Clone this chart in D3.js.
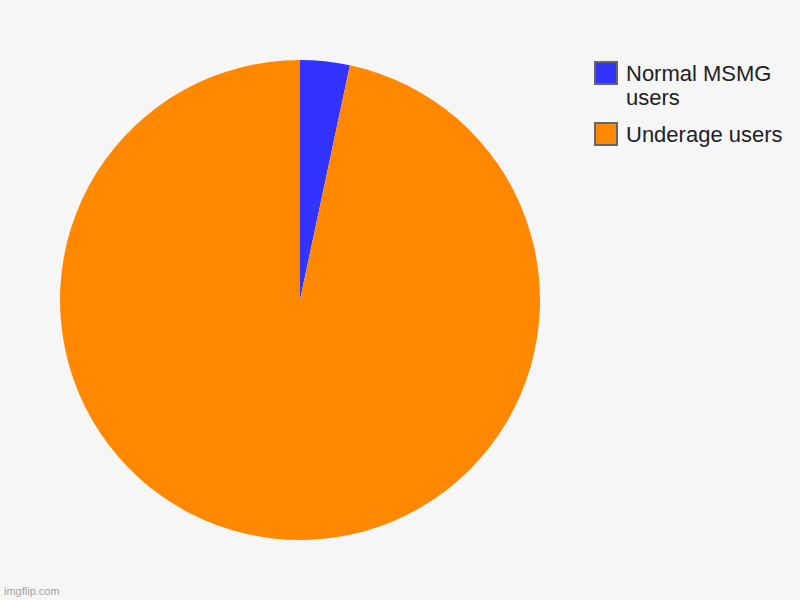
<!DOCTYPE html>
<html>
<head>
<meta charset="utf-8">
<script src="https://cdn.jsdelivr.net/npm/d3@7"></script>
<style>
  html, body { margin: 0; padding: 0; background: #f6f6f6; }
  svg { display: block; font-family: "Liberation Sans", Arial, sans-serif; }
</style>
</head>
<body>
<div id="container"></div>
<script>
"use strict";

// Chart data.
const categories = ["Normal MSMG users", "Underage users"];
const values = [1, 29];
const colors = ["#3333ff", "#ff8800"];
const legendLines = [["Normal MSMG", "users"], ["Underage users"]];

const width = 800;
const height = 600;
const radius = 240;
const cx = 300;
const cy = 300;

const svg = d3.create("svg").attr("width", width).attr("height", height);
d3.select("#container").append(() => svg.node());

svg.append("rect").attr("width", width).attr("height", height).attr("fill", "#f6f6f6");

const pie = d3.pie().sort(null).value((d) => d.value);
const arc = d3.arc().innerRadius(0).outerRadius(radius);
const data = categories.map((c, i) => ({ key: c, value: values[i] }));

// Draw slices, starting at 12 o'clock and going clockwise.
svg
  .append("g")
  .attr("transform", `translate(${cx}, ${cy})`)
  .selectAll("path")
  .data(pie(data))
  .enter()
  .append("path")
  .attr("d", arc)
  .style("fill", (d, i) => colors[i]);

// Legend on the right.
const legendY = d3.scaleOrdinal().domain(categories).range([61, 122]);

const legend = svg
  .append("g")
  .selectAll("g")
  .data(categories)
  .enter()
  .append("g")
  .attr("transform", (d) => `translate(595, ${legendY(d)})`);

legend
  .append("rect")
  .attr("x", 0)
  .attr("y", 1)
  .attr("width", 22)
  .attr("height", 22)
  .style("fill", (d, i) => colors[i])
  .style("stroke", "#666")
  .attr("stroke-width", 2);

legend
  .append("text")
  .attr("x", 31)
  .attr("y", 19.5)
  .style("font-size", "22px")
  .style("fill", "#222")
  .selectAll("tspan")
  .data((d, i) => legendLines[i])
  .enter()
  .append("tspan")
  .attr("x", 31)
  .attr("dy", (d, j) => (j === 0 ? 0 : 24.5))
  .text((d) => d);

// Watermark.
svg
  .append("text")
  .attr("x", 4)
  .attr("y", 595)
  .style("font-size", "11px")
  .style("fill", "#a0a0a0")
  .text("imgflip.com");
</script>
</body>
</html>
